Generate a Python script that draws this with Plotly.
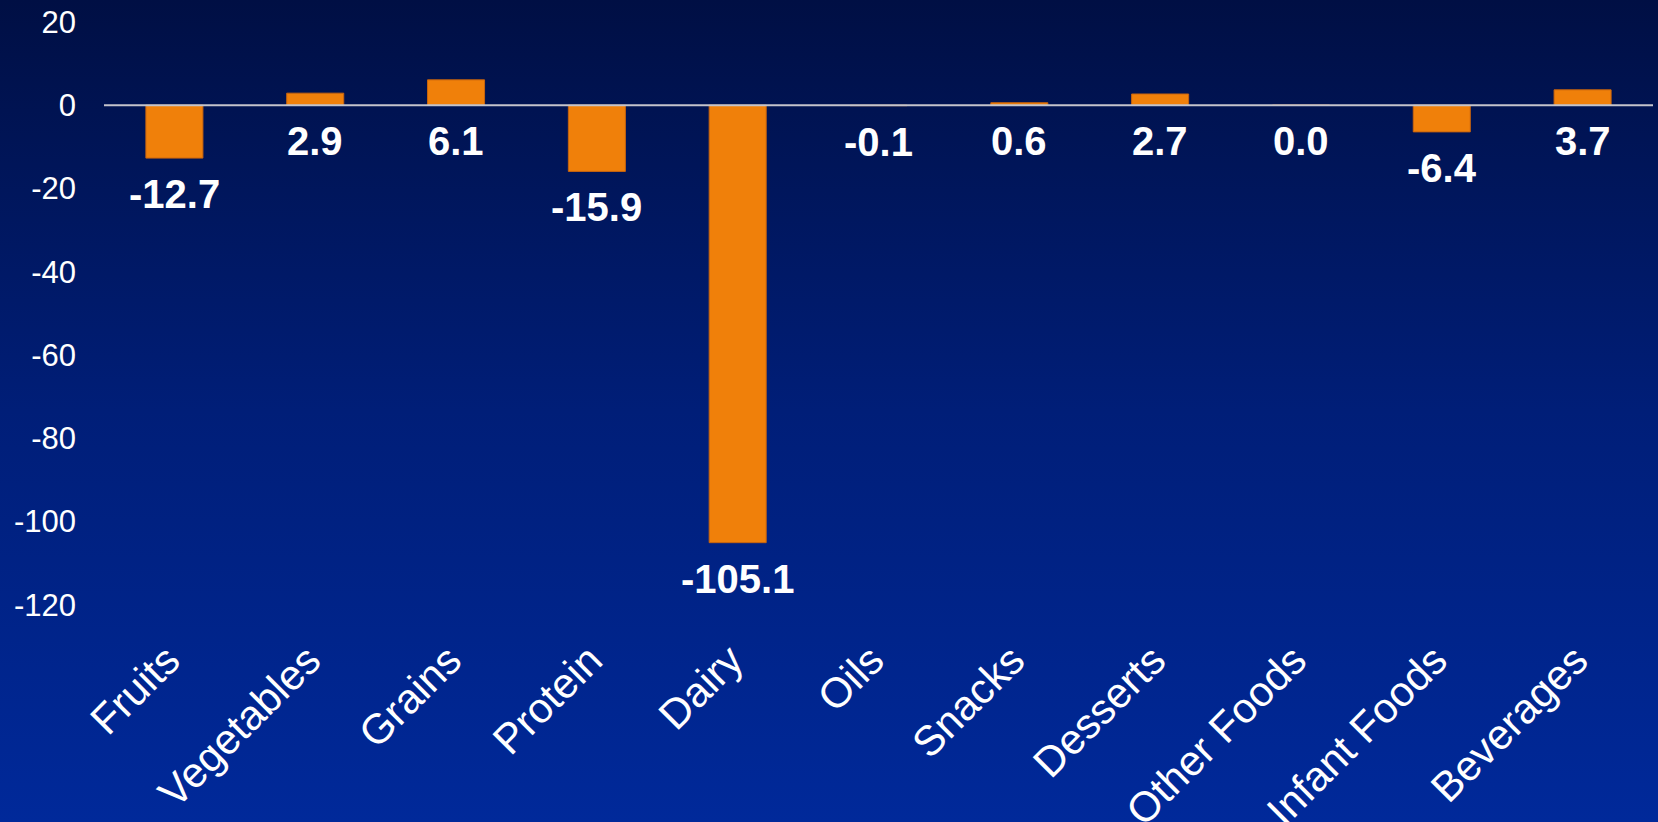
import base64
import plotly.graph_objects as go

categories = ["Fruits", "Vegetables", "Grains", "Protein", "Dairy", "Oils",
              "Snacks", "Desserts", "Other Foods", "Infant Foods", "Beverages"]
values = [-12.7, 2.9, 6.1, -15.9, -105.1, -0.1, 0.6, 2.7, 0.0, -6.4, 3.7]
y_ticks = [20, 0, -20, -40, -60, -80, -100, -120]

W, H = 1658, 822
ML, MR, MT, MB = 104, 5, 22, 200
PW, PH = W - ML - MR, H - MT - MB
Y_MIN = 20 - PH / 4.162

svg = (
    '<svg xmlns="http://www.w3.org/2000/svg" width="100" height="100" preserveAspectRatio="none">'
    '<defs><linearGradient id="g" x1="0" y1="0" x2="0" y2="1">'
    '<stop offset="0" stop-color="#000f44"/>'
    '<stop offset="0.5" stop-color="#001e78"/>'
    '<stop offset="1" stop-color="#00299a"/>'
    '</linearGradient></defs>'
    '<rect width="100" height="100" fill="url(#g)"/></svg>'
)
bg_uri = "data:image/svg+xml;base64," + base64.b64encode(svg.encode()).decode()

FONT = "Arial, 'Liberation Sans', sans-serif"

fig = go.Figure(go.Bar(
    x=categories, y=values,
    marker=dict(color="#f0800a", line=dict(color="#c8640e", width=1)),
    width=0.405,
    hoverinfo="x+y",
))

for c, v in zip(categories, values):
    fig.add_annotation(
        x=c, y=min(v, 0), text=f"{v:.1f}", showarrow=False,
        yanchor="middle", yshift=-36,
        font=dict(family=FONT, size=40, color="white", weight="bold"),
    )

fig.add_shape(type="line", xref="paper", x0=0, x1=1, yref="y", y0=0, y1=0,
              line=dict(color="#c4c4cc", width=2), layer="above")

fig.add_layout_image(dict(
    source=bg_uri, xref="paper", yref="paper",
    x=-ML / PW, y=1 + MT / PH, sizex=W / PW, sizey=H / PH,
    xanchor="left", yanchor="top", sizing="stretch", layer="below",
))

fig.update_layout(
    width=W, height=H,
    margin=dict(l=ML, r=MR, t=MT, b=MB),
    paper_bgcolor="#001e78", plot_bgcolor="rgba(0,0,0,0)",
    showlegend=False,
    font=dict(family=FONT, color="white"),
    xaxis=dict(
        tickangle=-45, tickfont=dict(size=42, color="white", family=FONT),
        showgrid=False, showline=False, zeroline=False, ticks="",
        ticklabelshift=-7, ticklabelstandoff=4,
        automargin=False,
    ),
    yaxis=dict(
        range=[Y_MIN, 20], tickvals=y_ticks, ticktext=[str(t) for t in y_ticks],
        tickfont=dict(size=31, color="white", family=FONT),
        showgrid=False, showline=False, zeroline=False, ticks="",
        ticklabelstandoff=27, automargin=False,
    ),
)

fig.write_html("out.html")
